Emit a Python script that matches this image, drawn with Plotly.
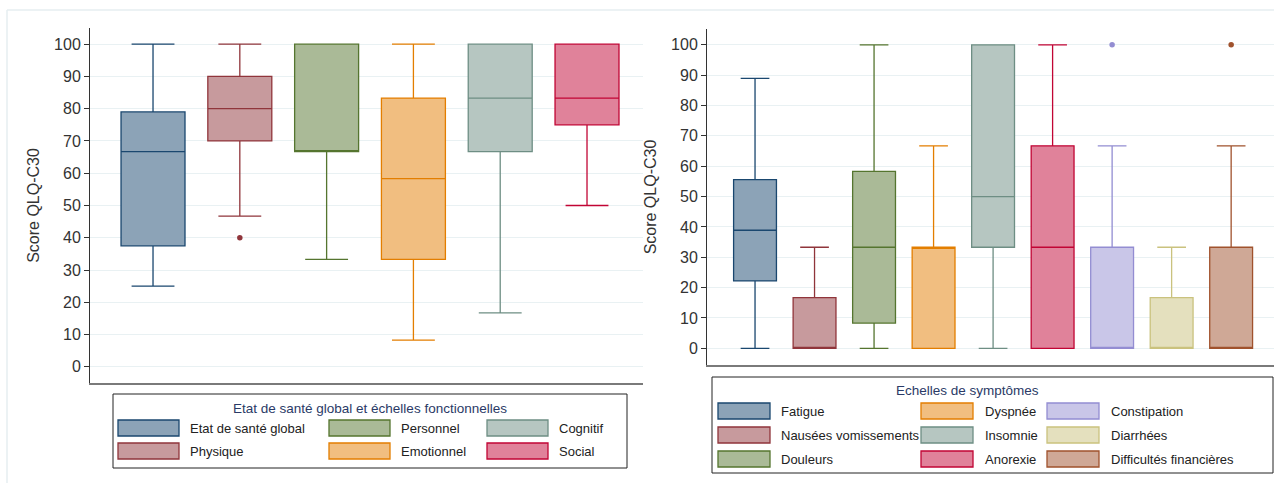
import plotly.graph_objects as go

W, H = 1274, 483

# ---- Panel 1: global health status and functional scales ----
func_names = ["Etat de santé global", "Physique", "Personnel",
              "Emotionnel", "Cognitif", "Social"]
func_low = [25.0, 46.7, 33.3, 8.3, 16.7, 50.0]
func_q1 = [37.5, 70.0, 66.7, 33.3, 66.7, 75.0]
func_med = [66.7, 80.0, 66.7, 58.3, 83.3, 83.3]
func_q3 = [79.0, 90.0, 100.0, 83.3, 100.0, 100.0]
func_high = [100.0, 100.0, 100.0, 100.0, 100.0, 100.0]
func_out_idx = [1]
func_out_val = [40.0]

# ---- Panel 2: symptom scales ----
sym_names = ["Fatigue", "Nausées vomissements", "Douleurs", "Dyspnée",
             "Insomnie", "Anorexie", "Constipation", "Diarrhées",
             "Difficultés financières"]
sym_low = [0.0, 0.0, 0.0, 0.0, 0.0, 0.0, 0.0, 0.0, 0.0]
sym_q1 = [22.2, 0.0, 8.3, 0.0, 33.3, 0.0, 0.0, 0.0, 0.0]
sym_med = [38.9, 0.0, 33.3, 33.3, 50.0, 33.3, 0.0, 0.0, 0.0]
sym_q3 = [55.6, 16.7, 58.3, 33.3, 100.0, 66.7, 33.3, 16.7, 33.3]
sym_high = [88.9, 33.3, 100.0, 66.7, 100.0, 100.0, 66.7, 33.3, 66.7]
sym_out_idx = [6, 8]
sym_out_val = [100.0, 100.0]

y_ticks = [0, 10, 20, 30, 40, 50, 60, 70, 80, 90, 100]
y_title = "Score QLQ-C30"
func_legend_title = "Etat de santé global et échelles fonctionnelles"
sym_legend_title = "Echelles de symptômes"

# Stata s2color palette: outline colour and 50% intensity fill
line_cols = ["#1a476f", "#90353b", "#55752f", "#e37e00", "#6e8e84",
             "#c10534", "#938dd2", "#cac27e", "#a0522d"]
fill_cols = ["#8ca3b7", "#c79a9d", "#aaba97", "#f1be80", "#b6c6c1",
             "#e0829a", "#c9c6e8", "#e4e0be", "#cfa896"]

FONT = "Liberation Sans"


def px(x):
    return x / W


def py(y):
    return 1 - y / H


fig = go.Figure()


def add_boxes(names, low, q1, med, q3, high, out_idx, out_val,
              xa, ya, box_w):
    for i, name in enumerate(names):
        fig.add_trace(go.Box(
            x=[i + 1], q1=[q1[i]], median=[med[i]], q3=[q3[i]],
            lowerfence=[low[i]], upperfence=[high[i]],
            name=name, boxpoints=False, width=box_w, whiskerwidth=0.67,
            fillcolor=fill_cols[i], line=dict(color=line_cols[i], width=1.3),
            xaxis=xa, yaxis=ya, showlegend=False, hoverinfo="skip"))
    for i, v in zip(out_idx, out_val):
        fig.add_trace(go.Scatter(
            x=[i + 1], y=[v], mode="markers",
            marker=dict(color=line_cols[i], size=5.5),
            xaxis=xa, yaxis=ya, showlegend=False, hoverinfo="skip"))


add_boxes(func_names, func_low, func_q1, func_med, func_q3, func_high,
          func_out_idx, func_out_val, "x", "y", 0.737)
add_boxes(sym_names, sym_low, sym_q1, sym_med, sym_q3, sym_high,
          sym_out_idx, sym_out_val, "x2", "y2", 0.72)

grid_col = "#e9f1f3"
yax_common = dict(
    tickvals=y_ticks, showgrid=True, gridcolor=grid_col, gridwidth=1,
    zeroline=False, showline=True, linecolor="#333333", linewidth=1,
    ticks="outside", ticklen=5, tickcolor="#333333",
    tickfont=dict(family=FONT, size=16, color="#333333"),
    title=dict(text=y_title, font=dict(family=FONT, size=16, color="#333333"),
               standoff=10))
xax_common = dict(
    showgrid=False, zeroline=False, showticklabels=False, ticks="",
    showline=True, linecolor="#7a7a7a", linewidth=2)

fig.update_layout(
    width=W, height=H, margin=dict(l=0, r=0, t=0, b=0),
    paper_bgcolor="white", plot_bgcolor="white",
    font=dict(family=FONT, color="#222222"),
    xaxis=dict(domain=[px(90), px(643)], range=[0.274, 6.645],
               anchor="y", **xax_common),
    yaxis=dict(domain=[py(383), py(28)], range=[-5, 105],
               anchor="x", **yax_common),
    xaxis2=dict(domain=[px(707), 1.0], range=[0.193, 9.72],
                anchor="y2", **xax_common),
    yaxis2=dict(domain=[py(365), py(29)], range=[-5.5, 105.2],
                anchor="x2", **yax_common),
)

shapes = []
annotations = []

# faint outer frame of the graph region
shapes.append(dict(type="line", xref="paper", yref="paper",
                   x0=px(7), x1=1, y0=py(10), y1=py(10),
                   line=dict(color="#e6eef0", width=1.5)))
shapes.append(dict(type="line", xref="paper", yref="paper",
                   x0=px(7), x1=px(7), y0=0, y1=py(10),
                   line=dict(color="#e6eef0", width=1.5)))


def add_legend(box, title, title_xy, names, idx_offset, cols, rows,
               sw_x, txt_x, row_y, sw_w, sw_h):
    x0, y0, x1, y1 = box
    shapes.append(dict(type="rect", xref="paper", yref="paper",
                       x0=px(x0), x1=px(x1), y0=py(y1), y1=py(y0),
                       line=dict(color="#222222", width=1),
                       fillcolor="white", layer="below"))
    annotations.append(dict(xref="paper", yref="paper", x=px(title_xy[0]),
                            y=py(title_xy[1]), text=title, showarrow=False,
                            xanchor="center", yanchor="middle",
                            font=dict(family=FONT, size=13.5,
                                      color="#2a3a66")))
    for k, name in enumerate(names):
        c, r = k // rows, k % rows
        i = idx_offset + k
        cy = row_y[r]
        shapes.append(dict(type="rect", xref="paper", yref="paper",
                           x0=px(sw_x[c]), x1=px(sw_x[c] + sw_w),
                           y0=py(cy + sw_h / 2), y1=py(cy - sw_h / 2),
                           line=dict(color=line_cols[i], width=1.3),
                           fillcolor=fill_cols[i]))
        annotations.append(dict(xref="paper", yref="paper", x=px(txt_x[c]),
                                y=py(cy), text=name, showarrow=False,
                                xanchor="left", yanchor="middle",
                                font=dict(family=FONT, size=13,
                                          color="#222222")))


add_legend((113, 394, 627, 468), func_legend_title, (370, 408),
           func_names, 0, 3, 2,
           sw_x=[118, 329, 487], txt_x=[188, 399, 557],
           row_y=[428, 451], sw_w=61, sw_h=16)
add_legend((712, 377, 1273, 473), sym_legend_title, (967, 390),
           sym_names, 0, 3, 3,
           sw_x=[718, 921, 1047], txt_x=[779, 983, 1109],
           row_y=[411, 435, 459], sw_w=52, sw_h=16)

fig.update_layout(shapes=shapes, annotations=annotations)

fig.write_html("out.html")
